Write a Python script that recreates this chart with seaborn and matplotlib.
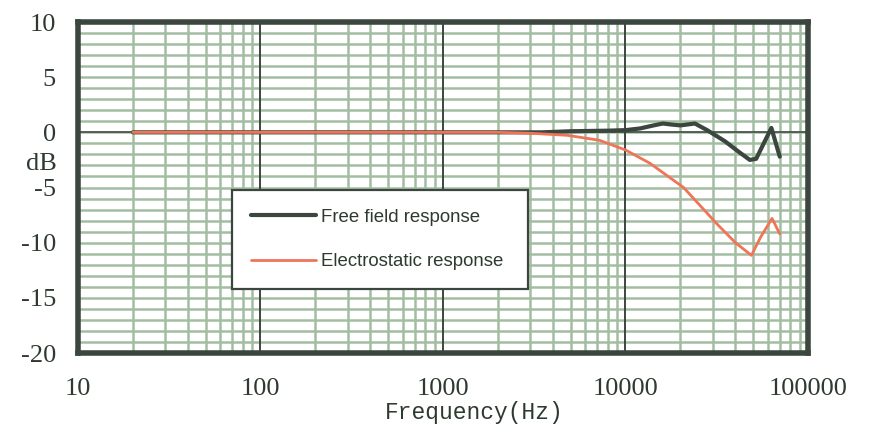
import matplotlib
matplotlib.use("Agg")
import matplotlib.pyplot as plt
import matplotlib.ticker as mticker
import numpy as np
import pandas as pd
import seaborn as sns

# ---- data ----
freq_free = [20, 100, 1000, 3000, 3500, 5000, 8000, 10000, 12000, 14000, 16000,
             18000, 20000, 24000, 28000, 35000, 42000, 48000, 52000, 58000, 63000, 70000]
db_free = [0, 0, 0, 0, 0, 0.1, 0.15, 0.2, 0.35, 0.6, 0.8,
           0.7, 0.63, 0.8, 0.2, -0.8, -1.8, -2.5, -2.4, -0.8, 0.4, -2.2]

freq_es = [20, 100, 1000, 2000, 3000, 4800, 7200, 10000, 13600, 20800, 31700,
           40000, 49000, 55000, 63500, 70000]
db_es = [0, 0, 0, 0, -0.08, -0.27, -0.72, -1.6, -2.8, -5.0, -8.3,
         -10.0, -11.15, -9.5, -7.8, -9.2]

series_names = ["Free field response", "Electrostatic response"]
x_ticks = [10, 100, 1000, 10000, 100000]
x_tick_labels = ["10", "100", "1000", "10000", "100000"]
y_ticks = [10, 5, 0, -5, -10, -15, -20]

df = pd.concat([
    pd.DataFrame({"freq": freq_free, "dB": db_free, "series": series_names[0]}),
    pd.DataFrame({"freq": freq_es, "dB": db_es, "series": series_names[1]}),
], ignore_index=True)

sns.set_style("white")

GRID = "#a3bda3"
DARK = "#3b463e"
RED = "#ef7458"
TXT = "#2e3a30"

fig = plt.figure(figsize=(8.7, 4.29), dpi=100)
fig.patch.set_facecolor("white")
ax = fig.add_axes([78 / 870, 1 - 353 / 429, 730 / 870, 331 / 429])

sns.lineplot(data=df, x="freq", y="dB", hue="series", sort=False,
             palette={series_names[0]: DARK, series_names[1]: RED},
             ax=ax, legend=False, estimator=None)
lines = ax.get_lines()
lines[0].set_linewidth(3.0)
lines[1].set_linewidth(2.0)
lines[0].set_zorder(5)
lines[1].set_zorder(6)

ax.set_xscale("log")
ax.set_xlim(10, 100000)
ax.set_ylim(-20, 10)

# grid
ax.xaxis.set_minor_locator(mticker.LogLocator(base=10, subs=np.arange(2, 10)))
ax.yaxis.set_minor_locator(mticker.MultipleLocator(1))
ax.grid(which="minor", axis="both", color=GRID, linewidth=1.8, zorder=1)
ax.grid(which="major", axis="y", color=GRID, linewidth=1.8, zorder=1)
ax.grid(which="major", axis="x", visible=False)
for xv in x_ticks[1:-1]:
    ax.axvline(xv, color=DARK, linewidth=1.4, zorder=3)
ax.axhline(0, color=DARK, linewidth=1.1, zorder=3)
ax.set_axisbelow(True)

ax.set_xticks(x_ticks)
ax.xaxis.set_major_formatter(mticker.FixedFormatter(x_tick_labels))
ax.set_yticks(y_ticks)
ax.set_yticklabels([str(v) for v in y_ticks])
ax.tick_params(axis="x", which="both", length=0, pad=18)
ax.tick_params(axis="y", which="major", direction="in", length=7, width=1.2,
               color=DARK, pad=16)
ax.tick_params(axis="y", which="minor", length=0)
for lbl in ax.get_xticklabels() + ax.get_yticklabels():
    lbl.set_fontfamily("Liberation Serif")
    lbl.set_fontsize(19)
    lbl.set_color(TXT)

for s in ax.spines.values():
    s.set_visible(True)
    s.set_color(DARK)
    s.set_linewidth(4.0)
    s.set_zorder(10)

ax.set_xlabel("")
ax.set_ylabel("")
fig.text(474 / 870, 1 - 413 / 429, "Frequency(Hz)", ha="center", va="center",
         fontfamily="Liberation Mono", fontsize=16.5, color=TXT)
fig.text(41 / 870, 1 - 164 / 429, "dB", ha="center", va="center",
         fontfamily="Liberation Serif", fontsize=19, color=TXT)

leg_x0 = (232 - 78) / 730
leg_w = (528 - 232) / 730
leg_top = (353 - 190) / 331
leg = ax.legend(lines, series_names,
                loc="upper left", bbox_to_anchor=(leg_x0, leg_top - 0.3, leg_w, 0.3),
                mode="expand",
                frameon=True, fancybox=False, framealpha=1, edgecolor=DARK,
                handlelength=3.5, labelspacing=1.47, borderpad=1.0,
                handletextpad=0.3, borderaxespad=0,
                prop={"family": "Liberation Sans", "size": 13.4})
leg.get_frame().set_linewidth(1.6)
leg.set_zorder(8)
for t in leg.get_texts():
    t.set_color(TXT)

fig.savefig("out.png", dpi=100)
